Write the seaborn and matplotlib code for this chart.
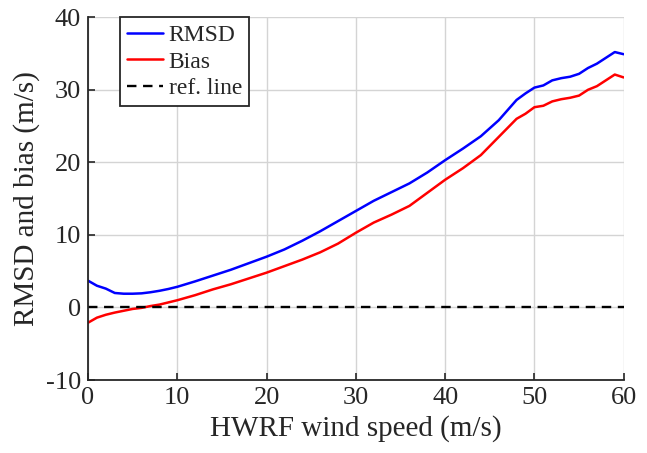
import numpy as np
import pandas as pd
import matplotlib
matplotlib.use("Agg")
import matplotlib.pyplot as plt
import seaborn as sns

# valores
wind = [0, 1, 2, 3, 4, 5, 6, 7, 8, 9, 10, 12, 14, 16, 18, 20, 22, 24, 26, 28,
        30, 32, 34, 36, 38, 40, 42, 44, 46, 48, 49, 50, 51, 52, 53, 54, 55,
        56, 57, 58, 59, 60]
rmsd = [3.7, 3.0, 2.6, 2.0, 1.9, 1.9, 1.95, 2.1, 2.3, 2.55, 2.85, 3.6, 4.4,
        5.2, 6.1, 7.0, 8.0, 9.2, 10.5, 11.9, 13.3, 14.7, 15.9, 17.1, 18.6,
        20.3, 21.9, 23.6, 25.8, 28.6, 29.5, 30.3, 30.6, 31.3, 31.6, 31.8,
        32.2, 33.0, 33.6, 34.4, 35.2, 34.9]
bias = [-2.1, -1.4, -1.0, -0.7, -0.45, -0.2, -0.05, 0.2, 0.4, 0.7, 1.0, 1.7,
        2.5, 3.2, 4.0, 4.8, 5.7, 6.6, 7.6, 8.8, 10.3, 11.7, 12.8, 14.0, 15.8,
        17.6, 19.2, 21.0, 23.5, 26.0, 26.7, 27.6, 27.8, 28.4, 28.7, 28.9,
        29.2, 30.0, 30.5, 31.3, 32.1, 31.7]
ref_level = 0

xticks = [0, 10, 20, 30, 40, 50, 60]
yticks = [-10, 0, 10, 20, 30, 40]

sns.set_theme(style="whitegrid")
plt.rcParams["font.family"] = ["Liberation Serif", "DejaVu Serif"]
plt.rcParams["axes.unicode_minus"] = False

df = pd.DataFrame({"wind": wind, "RMSD": rmsd, "Bias": bias})

fig = plt.figure(figsize=(6.47, 4.53), dpi=100)
ax = fig.add_axes([0.136, 0.161, 0.828, 0.801])

sns.lineplot(data=df, x="wind", y="RMSD", color="#0000ff", lw=1.8, ax=ax, label="RMSD")
sns.lineplot(data=df, x="wind", y="Bias", color="#ff0000", lw=1.8, ax=ax, label="Bias")
ax.axhline(ref_level, color="black", ls=(0, (4, 2.8)), lw=1.7, label="ref. line")

ax.set(xlim=(0, 60), ylim=(-10, 40))
ax.set_xticks(xticks)
ax.set_yticks(yticks)
ax.set_xlabel("HWRF wind speed (m/s)", fontsize=21, color="#262626", labelpad=4)
ax.set_ylabel("RMSD and bias (m/s)", fontsize=21, color="#262626", labelpad=4)
ax.tick_params(axis="both", direction="in", length=5, width=1.2, labelsize=19,
               colors="#262626", left=True, bottom=True, pad=5)

ax.grid(True, color="#d4d4d4", lw=1.0)
ax.set_facecolor("white")
for s in ["top", "right"]:
    ax.spines[s].set_visible(False)
for s in ["left", "bottom"]:
    ax.spines[s].set_color("#262626")
    ax.spines[s].set_linewidth(1.3)

leg = ax.legend(loc="upper left", bbox_to_anchor=(0.06, 1.0), borderaxespad=0,
                fontsize=17, handlelength=1.5, handletextpad=0.25,
                labelspacing=0.22, borderpad=0.3, fancybox=False, framealpha=1)
leg.get_frame().set_edgecolor("#262626")
leg.get_frame().set_linewidth(1.3)

fig.savefig("out.png", dpi=100)
